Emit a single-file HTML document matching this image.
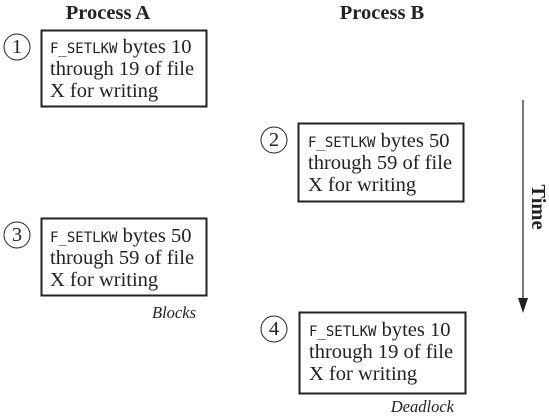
<!DOCTYPE html>
<html><head><meta charset="utf-8"><style>
html,body{margin:0;padding:0;background:#fff;}
svg{display:block;}
.s{font-family:"Liberation Serif",serif;font-size:20.5px;fill:#222;}
.m{font-family:"DejaVu Sans Mono","Liberation Mono",monospace;font-size:14px;fill:#222;}
</style></head><body>
<svg width="549" height="417" viewBox="0 0 549 417" xmlns="http://www.w3.org/2000/svg">
<text x="108" y="19" text-anchor="middle" class="s" font-weight="bold" font-size="18">Process A</text>
<text x="382" y="19" text-anchor="middle" class="s" font-weight="bold" font-size="18">Process B</text>
<g fill="none" stroke="#222">
<rect x="41.5" y="30.5" width="165" height="76" stroke-width="2"/>
<rect x="298.5" y="123.5" width="165" height="78" stroke-width="2"/>
<rect x="41.5" y="218.5" width="165" height="77" stroke-width="2"/>
<rect x="299.5" y="312.5" width="166" height="81" stroke-width="2"/>
<circle cx="17" cy="47" r="13" stroke-width="1"/>
<circle cx="274" cy="140" r="13" stroke-width="1"/>
<circle cx="17" cy="235" r="13" stroke-width="1"/>
<circle cx="274" cy="329" r="13" stroke-width="1"/>
<line x1="523" y1="100" x2="523" y2="300" stroke-width="1.2"/>
</g>
<polygon points="518,298 528,298 523,313" fill="#222"/>
<g class="s" text-anchor="middle" font-size="18">
<text x="17" y="53">1</text><text x="274" y="146">2</text>
<text x="17" y="241">3</text><text x="274" y="335">4</text>
</g>
<text transform="translate(532,207) rotate(90)" text-anchor="middle" class="s" font-weight="bold" font-size="18">Time</text>
<g class="s">
<text x="50" y="53"><tspan class="m">F_SETLKW</tspan> bytes 10</text>
<text x="50" y="75">through 19 of file</text>
<text x="50" y="97">X for writing</text>
<text x="308" y="147"><tspan class="m">F_SETLKW</tspan> bytes 50</text>
<text x="308" y="169">through 59 of file</text>
<text x="308" y="191">X for writing</text>
<text x="50" y="242"><tspan class="m">F_SETLKW</tspan> bytes 50</text>
<text x="50" y="264">through 59 of file</text>
<text x="50" y="286">X for writing</text>
<text x="309" y="336"><tspan class="m">F_SETLKW</tspan> bytes 10</text>
<text x="309" y="358">through 19 of file</text>
<text x="309" y="380">X for writing</text>
<text x="196" y="318" text-anchor="end" font-style="italic" font-size="16.5">Blocks</text>
<text x="454" y="412" text-anchor="end" font-style="italic" font-size="16.5">Deadlock</text>
</g>
</svg>
</body></html>
